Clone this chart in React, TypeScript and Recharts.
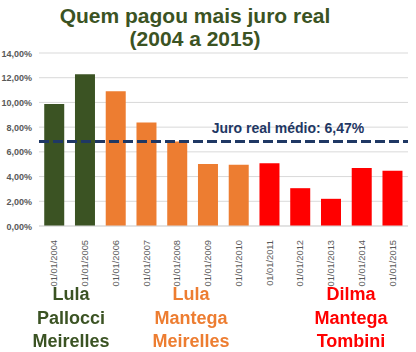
import React from "react";
import { BarChart, Bar, XAxis, YAxis, CartesianGrid, ReferenceLine, Cell } from "recharts";

const categories = [
  "01/01/2004", "01/01/2005", "01/01/2006", "01/01/2007", "01/01/2008", "01/01/2009",
  "01/01/2010", "01/01/2011", "01/01/2012", "01/01/2013", "01/01/2014", "01/01/2015",
];
const realRate = [9.87, 12.28, 10.9, 8.37, 6.83, 5.02, 4.95, 5.07, 3.06, 2.2, 4.69, 4.47];
const groupOf = [0, 0, 1, 1, 1, 1, 1, 2, 2, 2, 2, 2];
const groupColors = ["#3b5323", "#ed7d31", "#ff0000"];
const yTicks = [0, 2, 4, 6, 8, 10, 12, 14];
const averageLine = 6.83;
const averageLabel = "Juro real médio: 6,47%";
const titleLines = ["Quem pagou mais juro real", "(2004 a 2015)"];
const teams = [
  { lines: ["Lula", "Pallocci", "Meirelles"], color: "#3b5323", x: 71 },
  { lines: ["Lula", "Mantega", "Meirelles"], color: "#ed7d31", x: 191 },
  { lines: ["Dilma", "Mantega", "Tombini"], color: "#ff0000", x: 351 },
];

const data = categories.map((c, i) => ({ date: c, value: realRate[i], group: groupOf[i] }));

const fmt = (v: number) => v.toFixed(2).replace(".", ",") + "%";
const FONT = "Liberation Sans, Arial, sans-serif";

const XTick = (props: any) => {
  const { x, y, payload } = props;
  return (
    <text
      x={x + 3}
      y={y + 6}
      transform={`rotate(-90, ${x + 3}, ${y + 6})`}
      textAnchor="end"
      fontSize={9.3}
      fill="#595959"
      fontFamily={FONT}
    >
      {payload.value}
    </text>
  );
};

const YTick = (props: any) => {
  const { y, payload } = props;
  return (
    <text x={32} y={y + 3.5} textAnchor="end" fontSize={9} fontWeight="bold" fill="#595959" fontFamily={FONT}>
      {fmt(payload.value)}
    </text>
  );
};

const AvgLabel = (props: any) => {
  const vb = props.viewBox || {};
  return (
    <text
      x={288}
      y={(vb.y ?? 142) - 9}
      textAnchor="middle"
      fontSize={14}
      fontWeight="bold"
      fill="#1f3864"
      fontFamily={FONT}
    >
      {averageLabel}
    </text>
  );
};

export default function App() {
  return (
    <div style={{ position: "fixed", left: 0, top: 0, width: 416, height: 352, background: "#fff", fontFamily: FONT }}>
      <BarChart
        width={416}
        height={352}
        data={data}
        margin={{ top: 53, right: 8, bottom: 0, left: 0 }}
        barCategoryGap="17%"
      >
        <CartesianGrid vertical={false} stroke="#d9d9d9" />
        <XAxis
          dataKey="date"
          interval={0}
          height={126}
          tickLine={false}
          axisLine={{ stroke: "#d9d9d9" }}
          tick={<XTick />}
        />
        <YAxis
          width={39}
          domain={[0, 14]}
          ticks={yTicks}
          axisLine={false}
          tickLine={false}
          tick={<YTick />}
        />
        <Bar dataKey="value" isAnimationActive={false}>
          {data.map((d, i) => (
            <Cell key={i} fill={groupColors[d.group]} />
          ))}
        </Bar>
        <ReferenceLine
          y={averageLine}
          stroke="#1f3864"
          strokeWidth={3}
          strokeDasharray="10 4"
          label={<AvgLabel />}
        />
      </BarChart>
      <div style={{ position: "absolute", left: 0, top: 4, width: 390, textAlign: "center", color: "#3b5323", fontWeight: "bold", fontSize: 21, lineHeight: "23px" }}>
        {titleLines.map((t, i) => (
          <div key={i}>{t}</div>
        ))}
      </div>
      {teams.map((t, i) => (
        <div
          key={i}
          style={{ position: "absolute", left: t.x - 60, top: 283, width: 120, textAlign: "center", color: t.color, fontWeight: "bold", fontSize: 18, lineHeight: "23.5px" }}
        >
          {t.lines.map((l, j) => (
            <div key={j}>{l}</div>
          ))}
        </div>
      ))}
    </div>
  );
}
